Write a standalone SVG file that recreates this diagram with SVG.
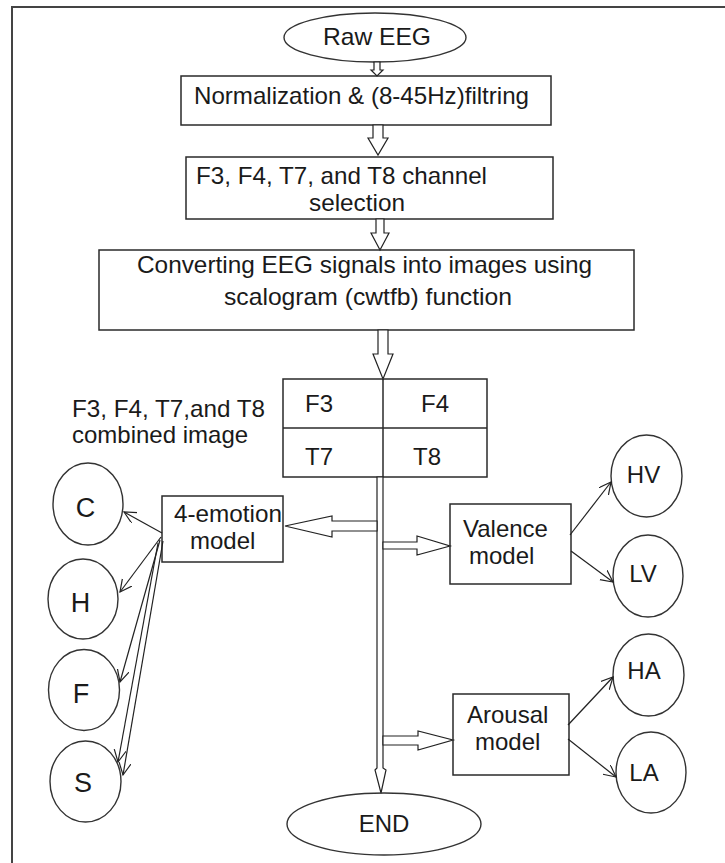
<svg xmlns="http://www.w3.org/2000/svg" width="725" height="863" viewBox="0 0 725 863">
<defs>
<style>
.t{font-family:"Liberation Sans",Arial,sans-serif;font-size:24px;fill:#1a1a1a}
.b{fill:#fff;stroke:#2a2a2a;stroke-width:1.5}
.e{fill:#fff;stroke:#333;stroke-width:1.4}
.ba{fill:#fff;stroke:#222;stroke-width:1.2;stroke-linejoin:miter}
.c{fill:none;stroke:#222;stroke-width:1.2}
</style>
<marker id="open" markerWidth="14" markerHeight="14" refX="12" refY="6" orient="auto" markerUnits="userSpaceOnUse">
<path d="M0,0 L12,6 L0,12" fill="none" stroke="#222" stroke-width="1.2"/>
</marker>
</defs>
<rect x="0" y="0" width="725" height="863" fill="#fff"/>
<rect id="frame" x="12" y="7" width="800" height="900" fill="none" stroke="#444" stroke-width="2"/>

<g id="raw-eeg"><ellipse class="e" cx="375" cy="37.5" rx="91" ry="24.5"/><text class="t" x="323" y="45" textLength="108" lengthAdjust="spacingAndGlyphs">Raw EEG</text></g>
<g id="normalization"><rect class="b" x="181" y="76" width="370" height="49"/><text class="t" x="194" y="104" textLength="335" lengthAdjust="spacingAndGlyphs">Normalization &amp; (8-45Hz)filtring</text></g>
<g id="selection"><rect class="b" x="186" y="157" width="367" height="62"/><text class="t" x="196" y="184" textLength="291" lengthAdjust="spacingAndGlyphs">F3, F4, T7, and T8 channel</text><text class="t" x="309" y="211" textLength="96" lengthAdjust="spacingAndGlyphs">selection</text></g>
<g id="converting"><rect class="b" x="99" y="250" width="535" height="80"/><text class="t" x="137" y="273" textLength="455" lengthAdjust="spacingAndGlyphs">Converting EEG signals into images using</text><text class="t" x="224" y="305" textLength="288" lengthAdjust="spacingAndGlyphs">scalogram (cwtfb) function</text></g>
<g id="combined-label"><text class="t" x="72" y="417" textLength="193" lengthAdjust="spacingAndGlyphs">F3, F4, T7,and T8</text><text class="t" x="72" y="443">combined image</text></g>
<g id="table"><rect class="b" x="283" y="379" width="204" height="98"/><line x1="283" y1="428" x2="487" y2="428" stroke="#2a2a2a" stroke-width="1.5"/><line x1="383" y1="379" x2="383" y2="477" stroke="#2a2a2a" stroke-width="1.5"/>
<text class="t" x="305" y="412">F3</text><text class="t" x="421" y="412">F4</text><text class="t" x="305" y="465">T7</text><text class="t" x="413" y="465">T8</text></g>

<g id="emotion4"><rect class="b" x="162" y="496" width="121" height="66"/><text class="t" x="174" y="522" textLength="108" lengthAdjust="spacingAndGlyphs">4-emotion</text><text class="t" x="190" y="549">model</text></g>
<g id="valence"><rect class="b" x="450" y="504" width="121" height="80"/><text class="t" x="463" y="537">Valence</text><text class="t" x="469" y="564">model</text></g>
<g id="arousal"><rect class="b" x="453" y="694" width="116" height="81"/><text class="t" x="467" y="723">Arousal</text><text class="t" x="475" y="750">model</text></g>

<g id="c"><ellipse class="e" cx="88" cy="504" rx="35" ry="41"/><text class="t" x="85.5" y="517" text-anchor="middle" style="font-size:27px">C</text></g>
<g id="h"><ellipse class="e" cx="83" cy="599" rx="35" ry="40"/><text class="t" x="80.5" y="612" text-anchor="middle" style="font-size:27px">H</text></g>
<g id="f"><ellipse class="e" cx="84" cy="690" rx="35.5" ry="40.5"/><text class="t" x="81" y="703" text-anchor="middle" style="font-size:27px">F</text></g>
<g id="s"><ellipse class="e" cx="85.5" cy="781.5" rx="35.5" ry="40.5"/><text class="t" x="83" y="792" text-anchor="middle" style="font-size:27px">S</text></g>
<g id="hv"><ellipse class="e" cx="646.5" cy="476" rx="35.5" ry="41"/><text class="t" x="643.5" y="483" text-anchor="middle">HV</text></g>
<g id="lv"><ellipse class="e" cx="648" cy="576" rx="35" ry="41"/><text class="t" x="643" y="582" text-anchor="middle">LV</text></g>
<g id="ha"><ellipse class="e" cx="648.5" cy="675" rx="35.5" ry="41"/><text class="t" x="644" y="679" text-anchor="middle">HA</text></g>
<g id="la"><ellipse class="e" cx="651" cy="772.5" rx="35" ry="40.5"/><text class="t" x="644" y="781" text-anchor="middle">LA</text></g>
<g id="end"><ellipse class="e" cx="384" cy="824" rx="97" ry="31"/><text class="t" x="384" y="832" text-anchor="middle">END</text></g>

<g id="connectors">
<polygon class="ba" points="374,62 380,62 380,70 383,70 377,76 371,70 374,70"/>
<polygon class="ba" points="373,125 383,125 383,138 388,138 378,155 368,138 373,138"/>
<polygon class="ba" points="376,219 384,219 384,233 389,233 380,250 371,233 376,233"/>
<polygon class="ba" points="378,330 388,330 388,354 393,354 383,379 373,354 378,354"/>
<polygon class="ba" points="377,477 383,477 383,768 386,770 381,793 375,770 377,768"/>
<polygon class="ba" points="377,521 332,521 332,516 285,526 332,537 332,531 377,531"/>
<polygon class="ba" points="383,542 417,542 417,536 450,546 417,555 417,549 383,549"/>
<polygon class="ba" points="383,736 418,736 418,731 453,740 418,750 418,745 383,745"/>
<line class="c" x1="162" y1="533" x2="124" y2="512" marker-end="url(#open)"/>
<line class="c" x1="161" y1="537" x2="120" y2="592" marker-end="url(#open)"/>
<line class="c" x1="160" y1="540" x2="120" y2="682" marker-end="url(#open)"/>
<line class="c" x1="158" y1="543" x2="118" y2="762" marker-end="url(#open)"/>
<line class="c" x1="163" y1="541" x2="123" y2="775" marker-end="url(#open)"/>
<line class="c" x1="570" y1="535" x2="611" y2="482" marker-end="url(#open)"/>
<line class="c" x1="571" y1="551" x2="613" y2="582" marker-end="url(#open)"/>
<line class="c" x1="568" y1="725" x2="613" y2="677" marker-end="url(#open)"/>
<line class="c" x1="568" y1="739" x2="616" y2="777" marker-end="url(#open)"/>
</g>
</svg>
